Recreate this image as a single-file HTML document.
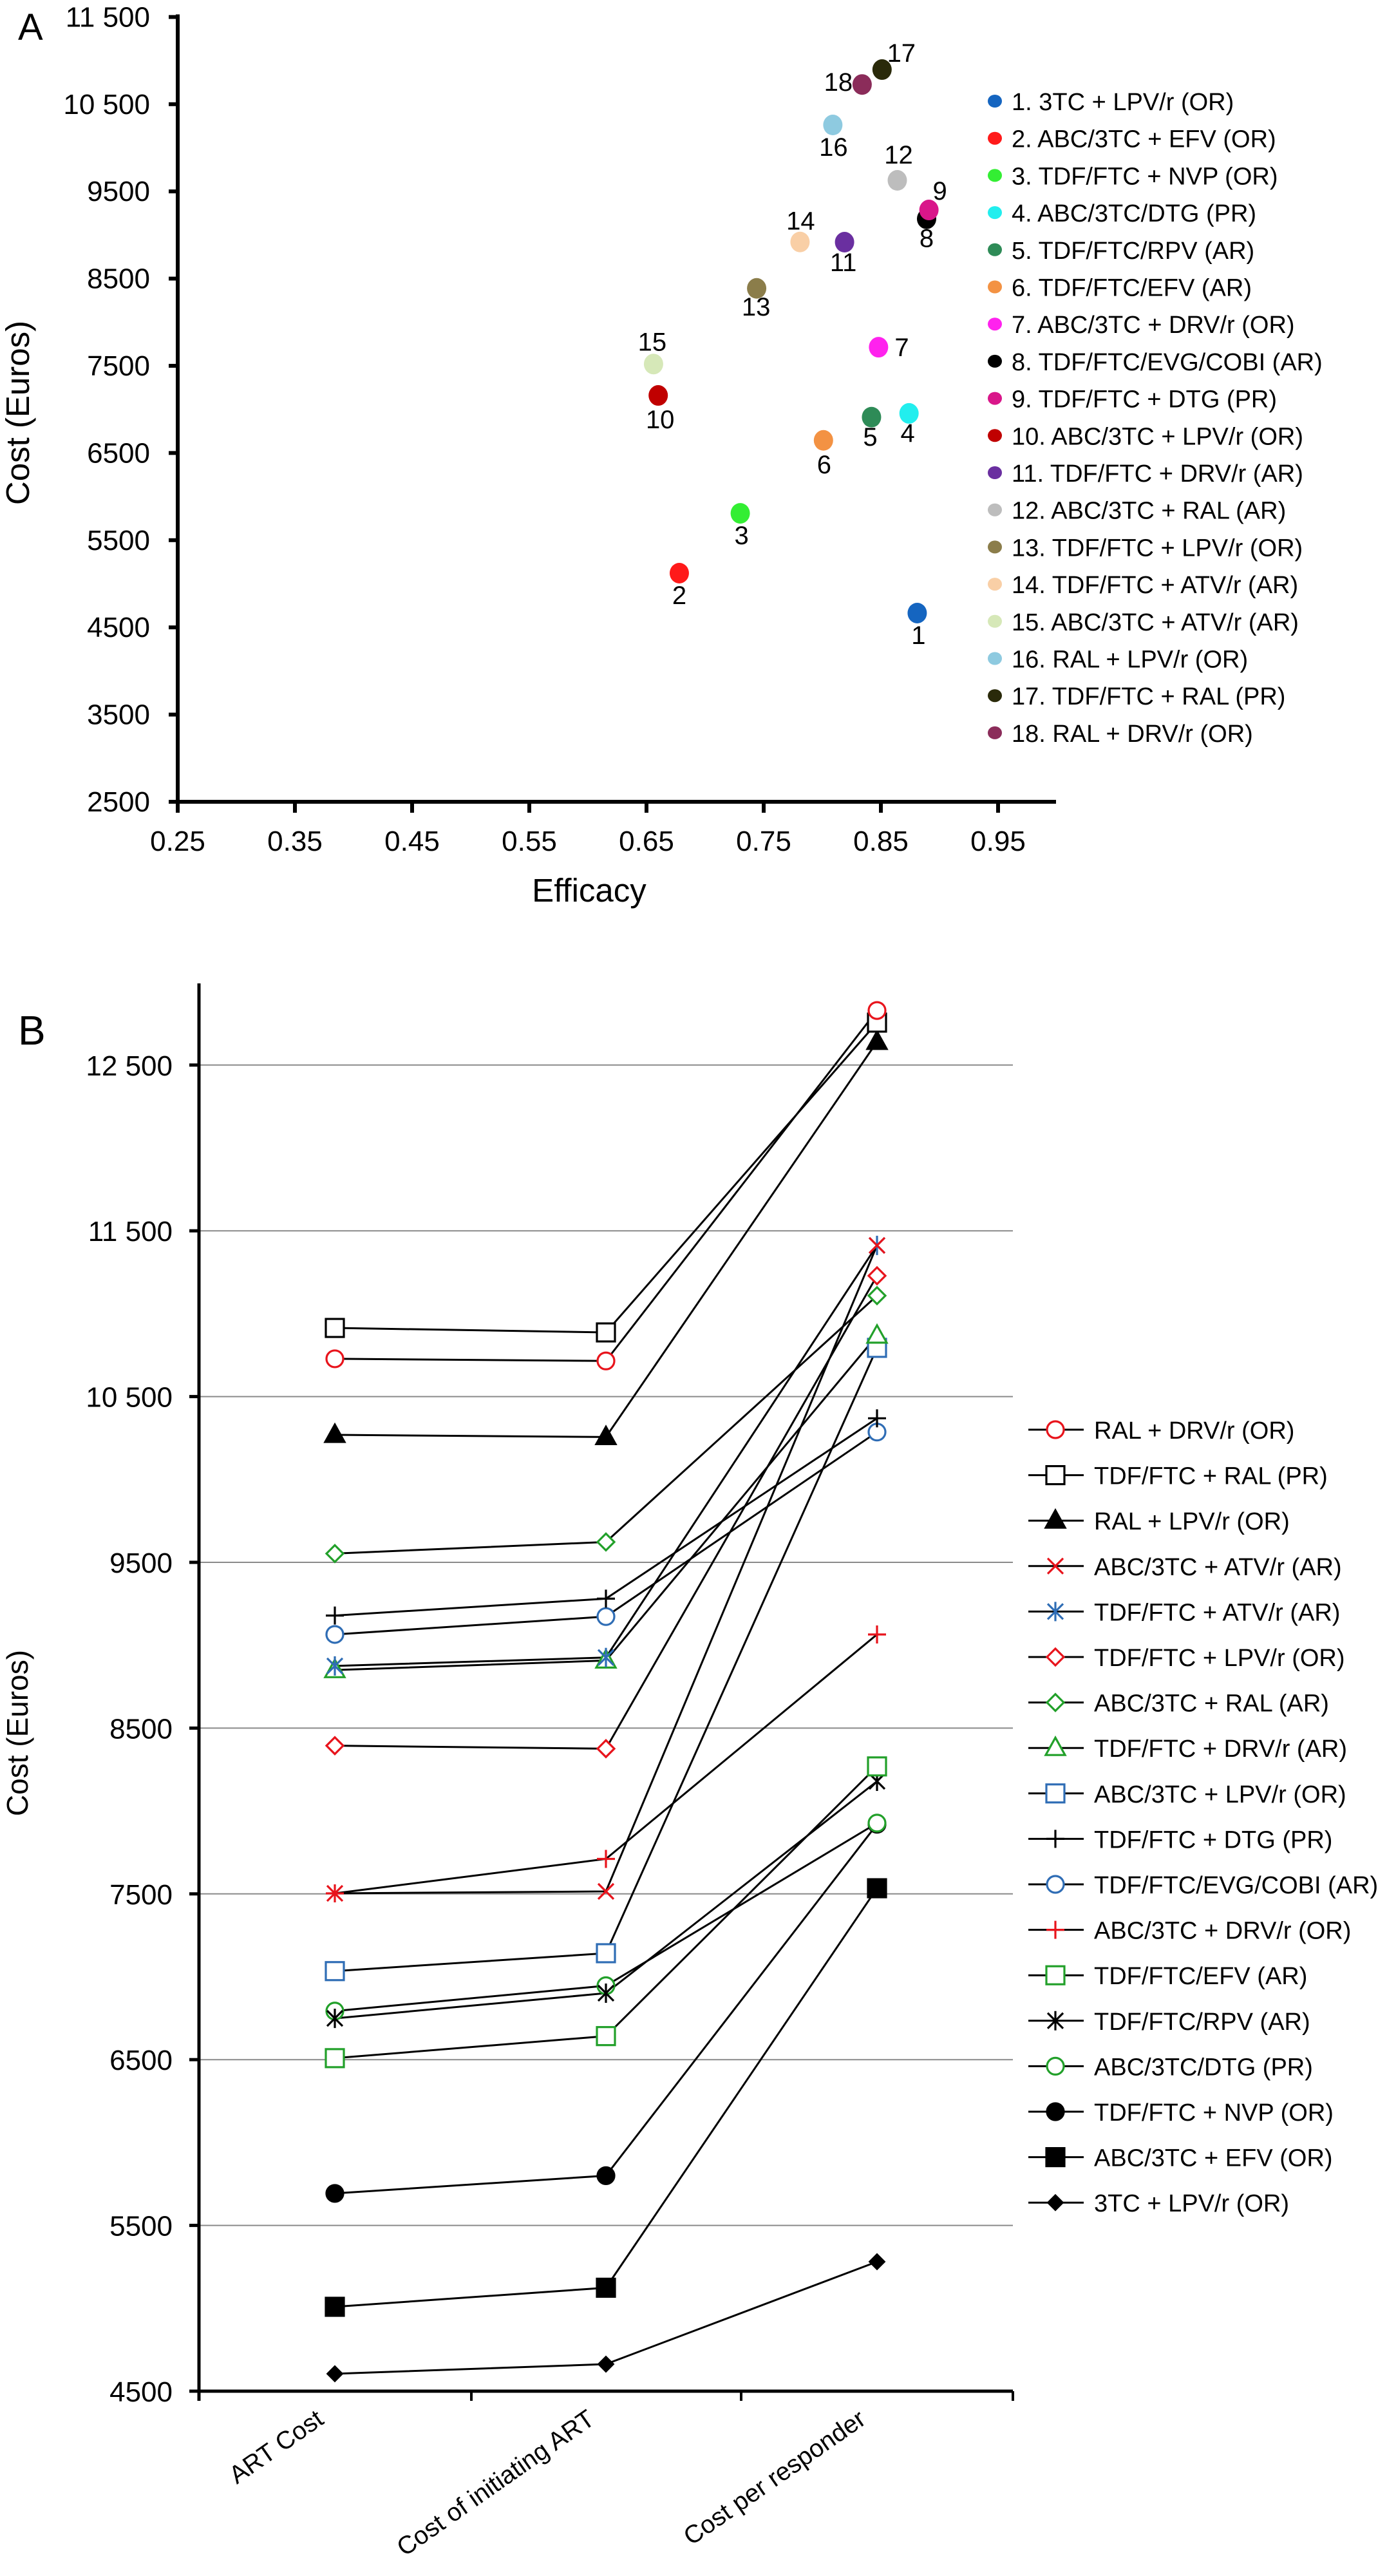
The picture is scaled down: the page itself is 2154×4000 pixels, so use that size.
<!DOCTYPE html>
<html><head><meta charset="utf-8">
<style>
html,body{margin:0;padding:0;background:#fff;}
svg{display:block;font-family:"Liberation Sans",Arial,sans-serif;}
</style></head>
<body>
<svg id="fig" width="2154" height="4000" viewBox="0 0 2154 4000" xmlns="http://www.w3.org/2000/svg">
<g id="chartA"></g>
<g id="chartB"></g>
</svg>
<script>
// ---------- Chart A data ----------
const aNames = ["3TC + LPV/r (OR)","ABC/3TC + EFV (OR)","TDF/FTC + NVP (OR)","ABC/3TC/DTG (PR)","TDF/FTC/RPV (AR)","TDF/FTC/EFV (AR)","ABC/3TC + DRV/r (OR)","TDF/FTC/EVG/COBI (AR)","TDF/FTC + DTG (PR)","ABC/3TC + LPV/r (OR)","TDF/FTC + DRV/r (AR)","ABC/3TC + RAL (AR)","TDF/FTC + LPV/r (OR)","TDF/FTC + ATV/r (AR)","ABC/3TC + ATV/r (AR)","RAL + LPV/r (OR)","TDF/FTC + RAL (PR)","RAL + DRV/r (OR)"];
const aEfficacy = [0.881,0.678,0.730,0.874,0.842,0.801,0.848,0.889,0.891,0.660,0.819,0.864,0.744,0.781,0.656,0.809,0.851,0.834];
const aCost = [4664,5122,5808,6954,6911,6645,7713,9186,9287,7160,8918,9627,8388,8920,7520,10262,10897,10726];
const aXTicks = [0.25,0.35,0.45,0.55,0.65,0.75,0.85,0.95];
const aYTicks = [2500,3500,4500,5500,6500,7500,8500,9500,10500,11500];
const aYTickLabels = ["2500","3500","4500","5500","6500","7500","8500","9500","10 500","11 500"];

// ---------- Chart B data ----------
const bCategories = ["ART Cost","Cost of initiating ART","Cost per responder"];
const bNames = ["RAL + DRV/r (OR)","TDF/FTC + RAL (PR)","RAL + LPV/r (OR)","ABC/3TC + ATV/r (AR)","TDF/FTC + ATV/r (AR)","TDF/FTC + LPV/r (OR)","ABC/3TC + RAL (AR)","TDF/FTC + DRV/r (AR)","ABC/3TC + LPV/r (OR)","TDF/FTC + DTG (PR)","TDF/FTC/EVG/COBI (AR)","ABC/3TC + DRV/r (OR)","TDF/FTC/EFV (AR)","TDF/FTC/RPV (AR)","ABC/3TC/DTG (PR)","TDF/FTC + NVP (OR)","ABC/3TC + EFV (OR)","3TC + LPV/r (OR)"];
const bArtCost = [10728,10914,10269,7503,8875,8394,9553,8850,7034,9179,9065,7503,6509,6749,6793,5693,5009,4605];
const bInitCost = [10715,10887,10256,7515,8926,8376,9623,8908,7142,9281,9173,7711,6642,6901,6946,5800,5124,4663];
const bRespCost = [12829,12756,12640,11412,11412,11229,11109,10868,10794,10369,10286,9065,8269,8179,7927,7920,7534,5281];
const bYTicks = [4500,5500,6500,7500,8500,9500,10500,11500,12500];
const bYTickLabels = ["4500","5500","6500","7500","8500","9500","10 500","11 500","12 500"];

const NS = "http://www.w3.org/2000/svg";
function mk(parent, tag, attrs, text){
  const e = document.createElementNS(NS, tag);
  for (const k in attrs) e.setAttribute(k, attrs[k]);
  if (text !== undefined) e.textContent = text;
  parent.appendChild(e);
  return e;
}

// ================= Chart A =================
(function(){
  const g = document.getElementById('chartA');
  const X0=276, XPER=1820, Y0=1245, YPER=0.1354;
  const xA = v => X0 + (v-0.25)*XPER;
  const yA = v => Y0 - (v-2500)*YPER;
  const colors = ["#1565c0","#ff1a1a","#33ee33","#22eeee","#2e8b57","#f39243","#ff22ee","#000000","#d9168a","#c00000","#6a2fa0","#bdbdbd","#8b7d4a","#f9cfa6","#d6e8b8","#8ecae0","#2a2a0a","#8b2c5a"];
  const lblOff = [[2,48,"middle"],[0,48,"middle"],[2,48,"middle"],[-2,44,"middle"],[-2,44,"middle"],[1,51,"middle"],[25,14,"start"],[0,44,"middle"],[17,-16,"middle"],[3,51,"middle"],[-2,45,"middle"],[2,-26,"middle"],[-1,42,"middle"],[1,-19,"middle"],[-2,-21,"middle"],[1,48,"middle"],[30,-12,"middle"],[-37,10,"middle"]];

  let t = mk(g,'text',{x:28,y:62,'font-size':58});
  t.textContent='A';
  
  

  let ax = mk(g,'line',{x1:X0,y1:yA(11500)-4,x2:X0,y2:Y0+3,stroke:'#000','stroke-width':6});
  
  
  ax = mk(g,'line',{x1:X0-3,y1:Y0,x2:1640,y2:Y0,stroke:'#000','stroke-width':6});
  
  

  aYTicks.forEach((v,i)=>{
    const tk = mk(g,'line',{x1:X0-14,y1:yA(v),x2:X0,y2:yA(v),stroke:'#000','stroke-width':6});
    
    
    const lb = mk(g,'text',{x:233,y:yA(v)+15,'font-size':44,'text-anchor':'end'},aYTickLabels[i]);
    
    
  });
  aXTicks.forEach(v=>{
    const tk = mk(g,'line',{x1:xA(v),y1:Y0,x2:xA(v),y2:Y0+17,stroke:'#000','stroke-width':6});
    
    
    const lb = mk(g,'text',{x:xA(v),y:Y0+76,'font-size':44,'text-anchor':'middle'},v.toFixed(2));
    
    
  });
  let tt = mk(g,'text',{x:915,y:1400,'font-size':51,'text-anchor':'middle'},'Efficacy');
  
  
  tt = mk(g,'text',{x:0,y:0,'font-size':51,'text-anchor':'middle',transform:'translate(45,641) rotate(-90)'},'Cost (Euros)');
  
  

  aCost.forEach((c,i)=>{
    const cx = xA(aEfficacy[i]), cy = yA(c);
    const p = mk(g,'ellipse',{cx:cx,cy:cy,rx:15,ry:16,fill:colors[i]});
    
    
    const o = lblOff[i];
    const l = mk(g,'text',{x:cx+o[0],y:cy+o[1],'font-size':40,'text-anchor':o[2]},String(i+1));
    
    
  });

  const lg = mk(g,'g',{});
  
  
  aNames.forEach((n,i)=>{
    const y = 157 + i*57.7;
    const d = mk(lg,'ellipse',{cx:1545,cy:y,rx:11,ry:10,fill:colors[i]});
    
    
    const tx = mk(lg,'text',{x:1571,y:y+14,'font-size':38},(i+1)+'. '+n);
    
    
  });
})();

// ================= Chart B =================
(function(){
  const g = document.getElementById('chartB');
  const X0=309, XEND=1573, Y0=3713, YPER=0.2574;
  const catX = [520,941,1362];
  const yB = v => Y0 - (v-4500)*YPER;
  const series = bNames.map((n,i)=>[bArtCost[i],bInitCost[i],bRespCost[i]]);
  const RED="#e8141c", BLUE="#2f6db5", GREEN="#22a02a", BLK="#000";
  const markers = [["circle",RED,false],["square",BLK,false],["triangle",BLK,true],["x",RED,false],["star",BLUE,false],["diamond",RED,false],["diamond",GREEN,false],["triangle",GREEN,false],["square",BLUE,false],["plus",BLK,false],["circle",BLUE,false],["plus",RED,false],["square",GREEN,false],["star",BLK,false],["circle",GREEN,false],["circle",BLK,true],["square",BLK,true],["sdiamond",BLK,true]];

  function marker(parent, type, color, filled, x, y){
    const sw = 3.2, fill = filled?color:'#fff';
    let e;
    if(type==='circle') e = mk(parent,'circle',{cx:x,cy:y,r:13,fill:fill,stroke:color,'stroke-width':sw});
    else if(type==='square') e = mk(parent,'rect',{x:x-14,y:y-14,width:28,height:28,fill:fill,stroke:color,'stroke-width':sw});
    else if(type==='triangle') e = mk(parent,'polygon',{points:`${x},${y-16} ${x+15},${y+11} ${x-15},${y+11}`,fill:fill,stroke:color,'stroke-width':sw});
    else if(type==='diamond') e = mk(parent,'polygon',{points:`${x},${y-13} ${x+13},${y} ${x},${y+13} ${x-13},${y}`,fill:fill,stroke:color,'stroke-width':sw});
    else if(type==='sdiamond') e = mk(parent,'polygon',{points:`${x},${y-12} ${x+12},${y} ${x},${y+12} ${x-12},${y}`,fill:fill,stroke:color,'stroke-width':2});
    else if(type==='x') e = mk(parent,'path',{d:`M${x-12},${y-12}L${x+12},${y+12}M${x-12},${y+12}L${x+12},${y-12}`,stroke:color,'stroke-width':sw,fill:'none'});
    else if(type==='plus') e = mk(parent,'path',{d:`M${x-14},${y}L${x+14},${y}M${x},${y-14}L${x},${y+14}`,stroke:color,'stroke-width':sw,fill:'none'});
    else e = mk(parent,'path',{d:`M${x-12},${y-12}L${x+12},${y+12}M${x-12},${y+12}L${x+12},${y-12}M${x},${y-15}L${x},${y+15}`,stroke:color,'stroke-width':sw,fill:'none'});
    return e;
  }

  let t = mk(g,'text',{x:28,y:1622,'font-size':64},'B');
  
  

  bYTicks.forEach((v,i)=>{
    if(i>0){
      const gl = mk(g,'line',{x1:X0,y1:yB(v),x2:XEND,y2:yB(v),stroke:'#8a8a8a','stroke-width':2});
      
      
    }
    const tk = mk(g,'line',{x1:X0-15,y1:yB(v),x2:X0,y2:yB(v),stroke:'#000','stroke-width':5});
    
    
    const lb = mk(g,'text',{x:268,y:yB(v)+16,'font-size':44,'text-anchor':'end'},bYTickLabels[i]);
    
    
  });
  let ax = mk(g,'line',{x1:X0,y1:1527,x2:X0,y2:Y0+15,stroke:'#000','stroke-width':5});
  
  
  ax = mk(g,'line',{x1:X0-15,y1:Y0,x2:XEND,y2:Y0,stroke:'#000','stroke-width':5});
  
  
  [732,1151,1573].forEach(x=>{
    const tk = mk(g,'line',{x1:x,y1:Y0,x2:x,y2:Y0+15,stroke:'#000','stroke-width':4});
    
    
  });
  bCategories.forEach((c,i)=>{
    const lb = mk(g,'text',{x:0,y:0,'font-size':39,'text-anchor':'end',transform:`translate(${catX[i]-15},3762) rotate(-35)`},c);
    
    
  });
  let tt = mk(g,'text',{x:0,y:0,'font-size':46,'text-anchor':'middle',transform:'translate(43,2691) rotate(-90)'},'Cost (Euros)');
  
  

  series.forEach((s,i)=>{
    const pts = s.map((v,j)=>catX[j]+','+yB(v)).join(' ');
    const pl = mk(g,'polyline',{points:pts,fill:'none',stroke:'#000','stroke-width':3});
    
    
  });
  for(let i=series.length-1;i>=0;i--){
    const m = markers[i];
    series[i].forEach((v,j)=>{
      const e = marker(g,m[0],m[1],m[2],catX[j],yB(v));
      
      
    });
  }

  const lg = mk(g,'g',{});
  
  
  bNames.forEach((n,i)=>{
    const y = 2220 + i*70.6;
    const ln = mk(lg,'line',{x1:1597,y1:y,x2:1683,y2:y,stroke:'#000','stroke-width':3});
    
    
    const m = markers[i];
    const e = marker(lg,m[0],m[1],m[2],1639,y);
    
    
    const tx = mk(lg,'text',{x:1699,y:y+14,'font-size':38},n);
    
    
  });
})();
</script>
</body></html>
